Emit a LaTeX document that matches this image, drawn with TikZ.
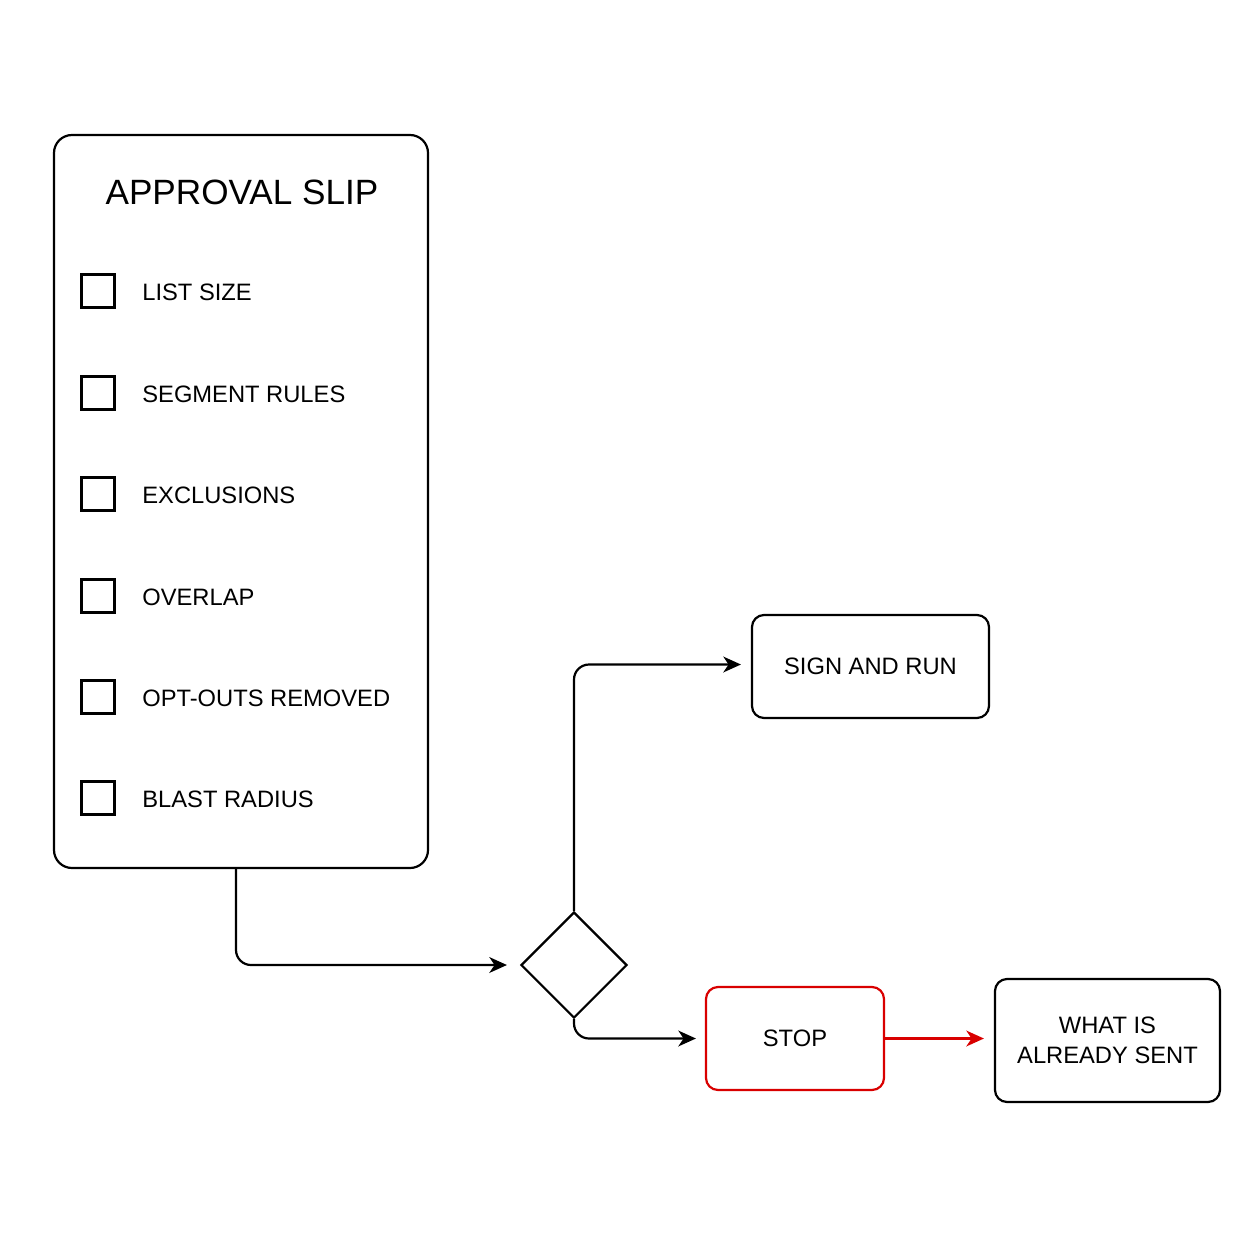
\documentclass[tikz,border=0pt]{standalone}
\usepackage{fontspec}
\setmainfont{Liberation Sans}
\usepackage{tikz}
\usetikzlibrary{arrows.meta, positioning, shapes.geometric}

\begin{document}
\begin{tikzpicture}[x=0.2mm, y=-0.2mm,
  box/.style   = {draw, line width=1.25pt, rounded corners=2.4mm, align=center,
                  font=\fontsize{13.5}{17}\selectfont},
  tick/.style  = {draw, line width=1.35pt, minimum size=6.6mm, inner sep=0pt},
  item/.style  = {anchor=west, inner sep=0pt, font=\fontsize{13.5}{16}\selectfont},
  flow/.style  = {draw, line width=1.25pt, rounded corners=3mm,
                  -{Stealth[length=10pt, width=9pt, inset=3pt]}},
]
\useasboundingbox (0,0) rectangle (1254,1254);

% approval slip
\node [box, minimum width=74.8mm, minimum height=146.6mm, rounded corners=3.6mm] (slip) at (241,501.5) {};
\node [font=\fontsize{20}{24}\selectfont] (title) at (242,192) {APPROVAL SLIP};

\node [tick] (c1) at (98,291) {};
\node [tick] (c2) at (98,393) {};
\node [tick] (c3) at (98,494) {};
\node [tick] (c4) at (98,596) {};
\node [tick] (c5) at (98,697) {};
\node [tick] (c6) at (98,798) {};

\node [item] (t1) at (142,292) {LIST SIZE};
\node [item] (t2) at (142,394) {SEGMENT RULES};
\node [item] (t3) at (142,495) {EXCLUSIONS};
\node [item] (t4) at (142,597) {OVERLAP};
\node [item] (t5) at (142,698) {OPT-OUTS REMOVED};
\node [item] (t6) at (142,799) {BLAST RADIUS};

% decision and outcomes
\node [draw, diamond, aspect=1, line width=1.25pt, minimum size=21.2mm, inner sep=0pt] (dec) at (574,965) {};
\node [box, minimum width=47.4mm, minimum height=20.6mm] (sign) at (870.5,666.5) {SIGN AND RUN};
\node [box, draw=red!85!black, minimum width=35.6mm, minimum height=20.6mm] (stop) at (795,1038.5) {STOP};
\node [box, minimum width=45mm, minimum height=24.6mm] (sent) at (1107.5,1040.5) {WHAT IS\\ALREADY SENT};

\path [flow, shorten >=2.6mm] ([xshift=-1mm]slip.south) |- (dec.west);
\path [flow, shorten >=2mm]   (dec.north) |- ([yshift=0.4mm]sign.west);
\path [flow, shorten >=1.8mm] (dec.south) |- (stop.west);
\path [flow, draw=red!85!black, fill=red!85!black, shorten >=2mm] (stop.east) -- (sent.west |- stop.east);

\end{tikzpicture}
\end{document}
